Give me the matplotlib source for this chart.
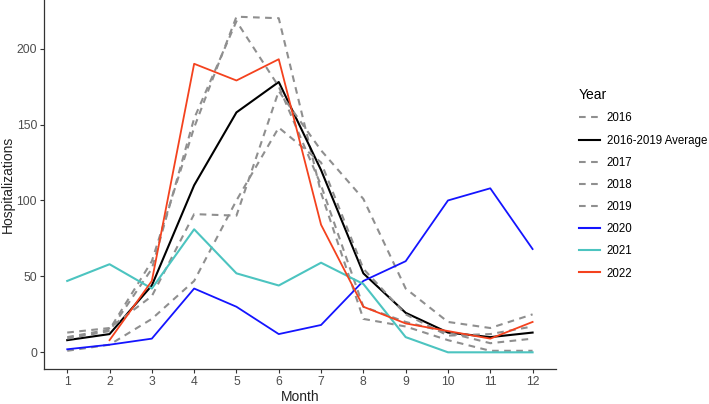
import matplotlib.pyplot as plt
from matplotlib.lines import Line2D

plt.rcParams['font.family'] = ['Liberation Sans', 'DejaVu Sans']

months = list(range(1, 13))

# values
y2016 = [10, 15, 60, 148, 221, 220, 105, 22, 17, 8, 1, 1]
y2017 = [9, 14, 55, 154, 218, 175, 110, 30, 20, 13, 6, 9]
y2018 = [13, 16, 37, 91, 90, 172, 133, 101, 42, 20, 16, 25]
y2019 = [1, 5, 22, 47, 100, 148, 125, 55, 25, 11, 12, 17]
avg = [8, 12, 44, 110, 158, 178, 120, 52, 26, 13, 10, 13]
y2020 = [2, 5, 9, 42, 30, 12, 18, 47, 60, 100, 108, 68]
y2021 = [47, 58, 42, 81, 52, 44, 59, 45, 10, 0, 0, 0]
months_2022 = list(range(2, 13))
y2022 = [8, 47, 190, 179, 193, 84, 30, 19, 14, 9, 20]

grey = '#8f8f8f'
blue = '#1414ff'
teal = '#4cc4c0'
red = '#f4421e'
dash = (3.2, 2.6)

fig = plt.figure(figsize=(7.09, 4.04), dpi=100)
ax = fig.add_axes([0.062, 0.0866, 0.722, 0.9134])

ax.plot(months, y2016, color=grey, lw=1.5, dashes=dash)
ax.plot(months, avg, color='black', lw=1.5)
ax.plot(months, y2017, color=grey, lw=1.5, dashes=dash)
ax.plot(months, y2018, color=grey, lw=1.5, dashes=dash)
ax.plot(months, y2019, color=grey, lw=1.5, dashes=dash)
ax.plot(months, y2020, color=blue, lw=1.3)
ax.plot(months, y2021, color=teal, lw=1.5)
ax.plot(months_2022, y2022, color=red, lw=1.3)

ax.set_xlim(0.45, 12.55)
ax.set_ylim(-11, 232)
ax.set_xticks(months)
ax.set_yticks([0, 50, 100, 150, 200])
for s in ['top', 'right']:
    ax.spines[s].set_visible(False)
for s in ['left', 'bottom']:
    ax.spines[s].set_color('#333333')
    ax.spines[s].set_linewidth(0.9)
ax.tick_params(colors='#333333', labelcolor='#4d4d4d', labelsize=8.8,
               length=3, width=0.8, pad=2)
ax.set_xlabel('Month', fontsize=10, color='#222222')
ax.set_ylabel('Hospitalizations', fontsize=10, color='#222222')
ax.xaxis.set_label_coords(0.5, -0.057)
ax.yaxis.set_label_coords(-0.057, 0.5)

labels = ['2016', '2016-2019 Average', '2017', '2018', '2019', '2020', '2021', '2022']
styles = [(grey, dash), ('black', None), (grey, dash), (grey, dash), (grey, dash),
          (blue, None), (teal, None), (red, None)]
handles = []
for c, d in styles:
    if d:
        handles.append(Line2D([], [], color=c, lw=1.5, dashes=d))
    else:
        handles.append(Line2D([], [], color=c, lw=1.5))

leg = fig.legend(handles, labels, title='Year', loc='upper left',
                 bbox_to_anchor=(0.802, 0.807), frameon=False,
                 fontsize=8.3, title_fontsize=10, handlelength=1.8,
                 handletextpad=0.6, labelspacing=0.88)
leg._legend_box.align = 'left'

fig.savefig('out.png', dpi=100)
